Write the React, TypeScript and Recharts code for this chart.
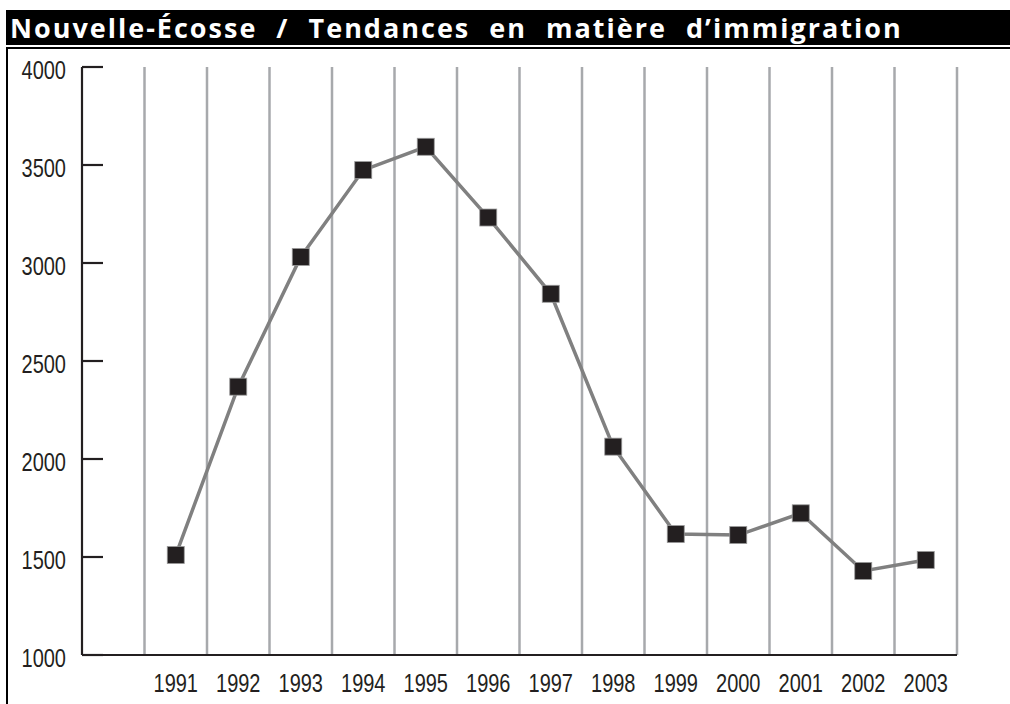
import { LineChart, Line, XAxis, YAxis, ReferenceLine } from "recharts"

const title = "Nouvelle-Écosse / Tendances en matière d’immigration"
const years = [1991, 1992, 1993, 1994, 1995, 1996, 1997, 1998, 1999, 2000, 2001, 2002, 2003]
const immigrants = [1510, 2369, 3031, 3474, 3593, 3232, 2843, 2063, 1617, 1612, 1723, 1429, 1485]
const yTicks = [1000, 1500, 2000, 2500, 3000, 3500, 4000]

const data = years.map((year, i) => ({ year, value: immigrants[i] }))
// separators between the years (plus one at each end)
const separators = [...years.map(y => y - 0.5), years[years.length - 1] + 0.5]

const ink = '#231f20'
const tickFont = '"Liberation Sans", Arial, sans-serif'

// condensed look: squeeze a regular sans horizontally
function NarrowText({ x, y, anchor, children }: any) {
    return (
        <text transform={`translate(${x},${y}) scale(0.8,1)`} textAnchor={anchor} dominantBaseline="middle"
            fontFamily={tickFont} fontSize={25} fill={ink}>{children}</text>
    )
}

function YTick({ x, y, payload }: any) {
    return (
        <g>
            <line x1={x + 16} x2={x + 37} y1={y} y2={y} stroke={ink} strokeWidth={2.2} />
            <NarrowText x={x} y={y + 5} anchor="end">{payload.value}</NarrowText>
        </g>
    )
}

function XTick({ x, y, payload }: any) {
    return <NarrowText x={x} y={y} anchor="middle">{payload.value}</NarrowText>
}

function SquareDot({ cx, cy }: any) {
    if (cx == null || cy == null) return null
    return <rect x={cx - 8.5} y={cy - 8.5} width={17} height={17} fill={ink} stroke="#9a9a9a" strokeWidth={0.8} />
}

export default function App() {
    return (
        <div style={{ position: 'absolute', left: 0, top: 0, width: 1010, height: 704, background: '#fff', overflow: 'hidden' }}>
            <div style={{
                position: 'absolute', left: 6, top: 10, width: 1004, height: 35, background: '#000',
                color: '#fff', fontFamily: '"Open Sans", "DejaVu Sans", sans-serif', fontWeight: 700,
                fontSize: 27, letterSpacing: 2, wordSpacing: 10, lineHeight: '36px', paddingLeft: 4,
                boxSizing: 'border-box', whiteSpace: 'nowrap'
            }}>{title}</div>
            <div style={{ position: 'absolute', left: 6, top: 47, width: 1004, height: 2, background: '#000' }} />
            <div style={{ position: 'absolute', left: 6, top: 47, width: 2, height: 657, background: '#000' }} />
            <div style={{ position: 'absolute', left: 0, top: 0 }}>
                <LineChart width={1010} height={704} data={data}
                    margin={{ top: 67, right: 53, left: 16, bottom: 0 }}>
                    {separators.map(s => (
                        <ReferenceLine key={s} x={s} stroke="#a7a9ac" strokeWidth={2.5} ifOverflow="extendDomain" />
                    ))}
                    <XAxis dataKey="year" type="number" domain={[1989.5, 2003.5]} ticks={years}
                        height={49} tickLine={false} tickMargin={30} tickSize={0}
                        axisLine={{ stroke: ink, strokeWidth: 2.2 }} tick={<XTick />} interval={0} />
                    <YAxis domain={[1000, 4000]} ticks={yTicks} width={66} type="number"
                        tickLine={false} tickSize={0} tickMargin={16} interval={0}
                        axisLine={{ stroke: ink, strokeWidth: 2.2 }} tick={<YTick />} allowDataOverflow />
                    <Line isAnimationActive={false} type="linear" dataKey="value" stroke="#808080"
                        strokeWidth={3.5} dot={<SquareDot />} activeDot={false} />
                </LineChart>
            </div>
        </div>
    )
}
